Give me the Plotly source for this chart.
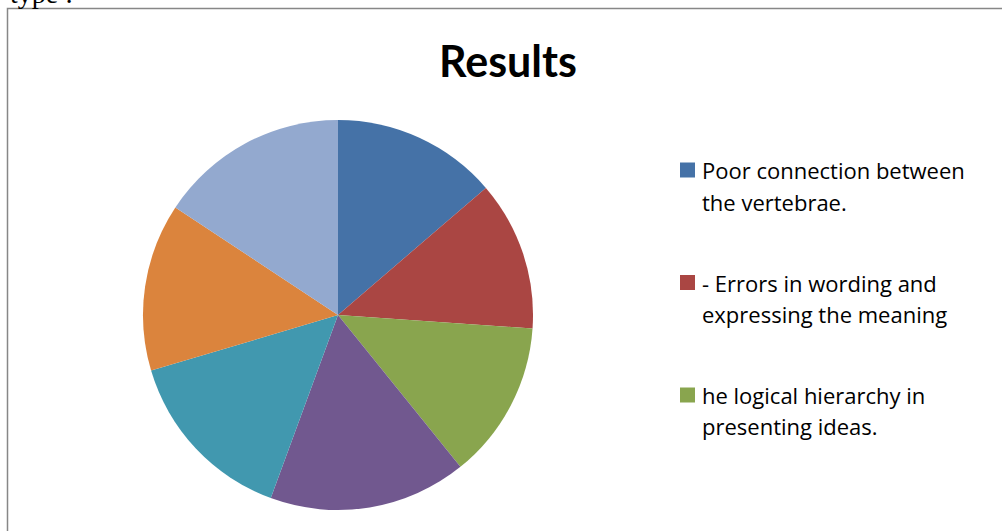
import plotly.graph_objects as go

# Data
labels = [
    "Poor connection between<br>the vertebrae.",
    "- Errors in wording and<br>expressing the meaning",
    "he logical hierarchy in<br>presenting ideas.",
    "Item 4",
    "Item 5",
    "Item 6",
    "Item 7",
]
values = [13.7, 12.4, 13.1, 16.4, 14.8, 13.9, 15.7]
colors = ["#4572A7", "#AA4643", "#89A54E", "#71588F", "#4198AF", "#DB843D", "#93A9CF"]
legend_visible = 3
title_text = "Results"
above_text = "type :"

W, H = 1002, 531

fig = go.Figure()
fig.add_trace(go.Pie(
    labels=labels,
    values=values,
    marker=dict(colors=colors, line=dict(width=0)),
    sort=False,
    direction="clockwise",
    rotation=0,
    textinfo="none",
    showlegend=False,
    domain=dict(x=[143 / W, 533 / W], y=[(H - 510) / H, (H - 120) / H]),
))

def px(x):
    return x / W

def py(y):
    return 1 - y / H

annotations = []
shapes = []

# Chart border (partly cut off by the picture's edges)
shapes.append(dict(type="rect", xref="paper", yref="paper",
                   x0=px(7.5), x1=px(1010), y0=py(540), y1=py(8.5),
                   line=dict(color="#878787", width=1.5), fillcolor="rgba(0,0,0,0)",
                   layer="below"))

# Text of the surrounding document, cut at the top
annotations.append(dict(text=above_text, xref="paper", yref="paper",
                        x=px(8), y=py(11), xanchor="left", yanchor="bottom",
                        showarrow=False,
                        font=dict(family="Liberation Serif", size=28, color="#000000")))

# Legend (only the first entries fit in the picture)
entry_top = 170
entry_step = 112.5
line_step = 31.5
for i in range(legend_visible):
    yc = entry_top + i * entry_step
    shapes.append(dict(type="rect", xref="paper", yref="paper",
                       x0=px(680), x1=px(695), y0=py(yc + 7.5), y1=py(yc - 7.5),
                       line=dict(width=0), fillcolor=colors[i]))
    for j, line in enumerate(labels[i].split("<br>")):
        annotations.append(dict(text=line, xref="paper", yref="paper",
                                x=px(700), y=py(yc + j * line_step),
                                xanchor="left", yanchor="middle", showarrow=False,
                                font=dict(family="Open Sans", size=22, color="#000000")))

fig.update_layout(
    width=W, height=H,
    margin=dict(l=0, r=0, t=0, b=0),
    paper_bgcolor="#FFFFFF",
    plot_bgcolor="#FFFFFF",
    title=dict(text="<b>" + title_text + "</b>", x=508 / W, xanchor="center",
               y=1 - 62 / H, yanchor="middle", yref="container",
               font=dict(family="Lato", size=43, color="#000000")),
    annotations=annotations,
    shapes=shapes,
)

fig.write_html("out.html",
               config=dict(displayModeBar=False),
               post_script="document.body.style.margin='0';document.body.style.overflow='hidden';")
